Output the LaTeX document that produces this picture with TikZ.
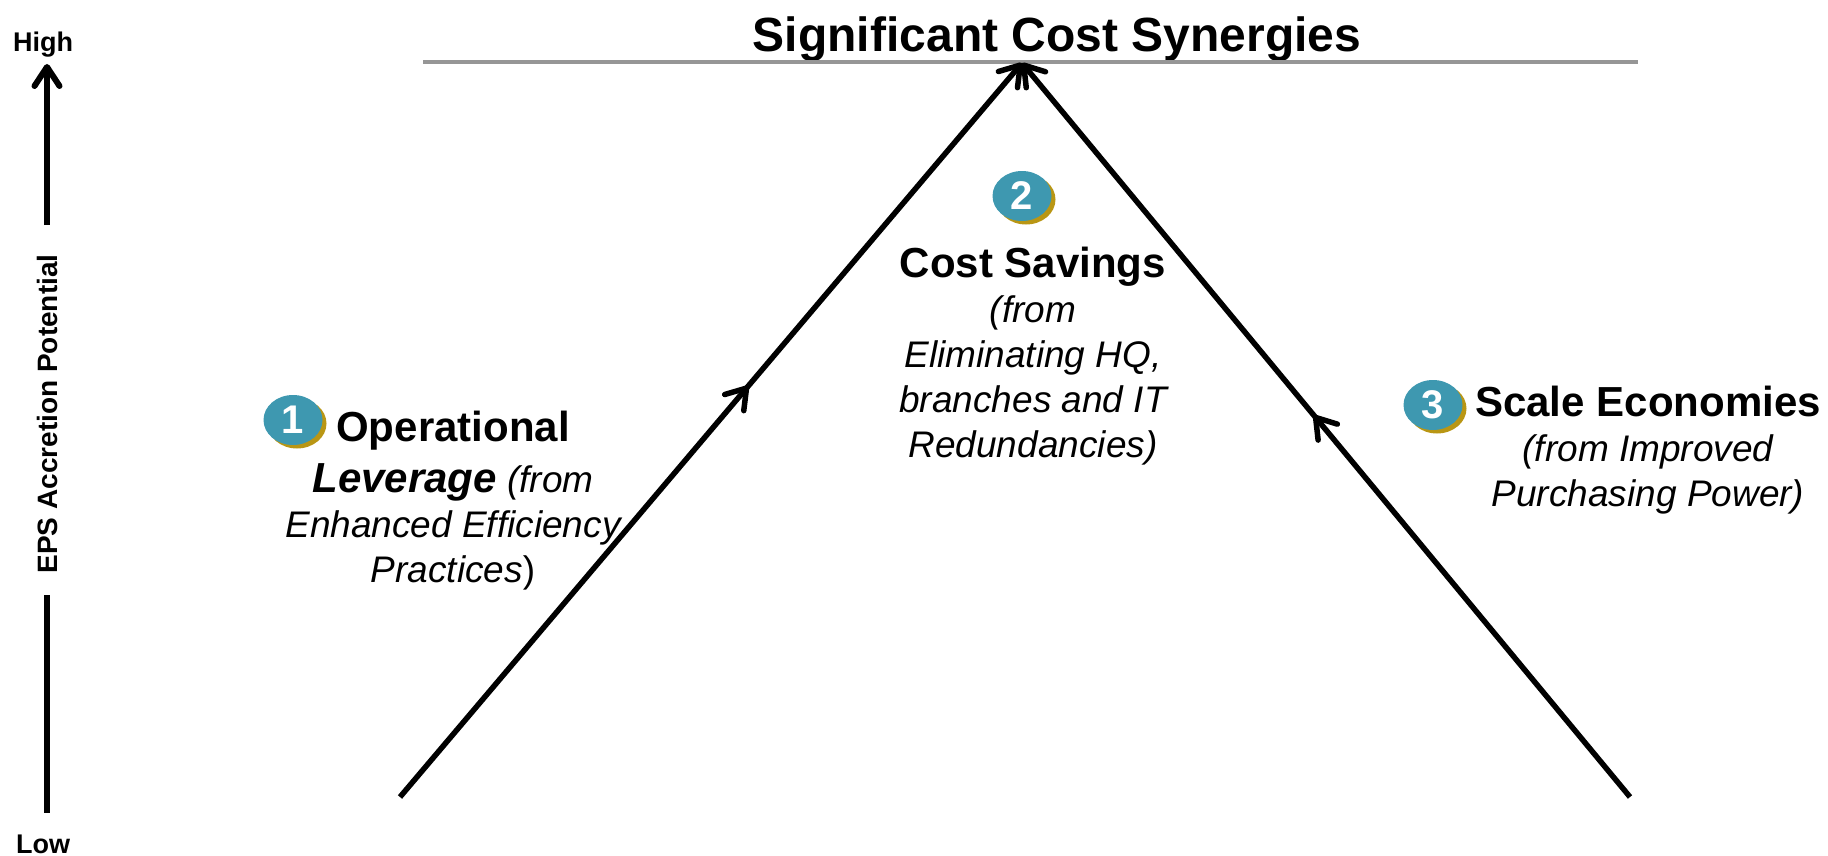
\documentclass[tikz,border=0pt]{standalone}
\usepackage{fontspec}
\setmainfont{Liberation Sans}
\usetikzlibrary{arrows.meta,decorations.markings,shapes.geometric,shadows}

\definecolor{badgeteal}{RGB}{62,152,176}
\definecolor{badgegold}{RGB}{185,150,20}
\definecolor{rulegray}{RGB}{150,150,150}

\begin{document}
\begin{tikzpicture}[x=1pt,y=-1pt,
  >={Straight Barb[length=19pt,width=25pt,line cap=round,line join=round]},
  leg/.style={line width=5.5pt,->,
    postaction={decorate,decoration={markings,mark=at position #1 with {\arrow{>}}}}},
  axisline/.style={line width=6pt},
  badge/.style={ellipse,inner sep=0pt,minimum width=59pt,minimum height=50pt,
    fill=badgeteal,text=white,font=\bfseries\fontsize{40}{40}\selectfont,
    drop shadow={shadow xshift=4pt,shadow yshift=-3.5pt,fill=badgegold,opacity=1}},
  block/.style={align=center,inner sep=0pt,anchor=north,
    font=\itshape\fontsize{37}{45}\selectfont},
  axislabel/.style={font=\bfseries\fontsize{27}{30}\selectfont,inner sep=0pt}
]
\useasboundingbox (0,0) rectangle (1828,856);

% vertical scale on the left
\node[axislabel] (high) at (43,45) {High};
\node[axislabel] (low) at (43,844) {Low};
\node[axislabel,rotate=90,font=\bfseries\fontsize{28}{30}\selectfont] (eps) at (47,414) {EPS Accretion Potential};
\coordinate (hightip) at (47,64);
\coordinate (uppstart) at (47,225);
\coordinate (lowtop) at (47,595);
\coordinate (lowend) at (47,813);
\draw[axisline,->] (uppstart) -- (hightip);
\draw[axisline] (lowtop) -- (lowend);

% headline and its rule
\node[inner sep=0pt,anchor=base,font=\bfseries\fontsize{48}{52}\selectfont] (title) at (1057,52) {Significant Cost Synergies};
\coordinate (ruleL) at (423,62);
\coordinate (ruleR) at (1638,62);
\draw[rulegray,line width=3.3pt] (ruleL) -- (ruleR);

% the two converging legs
\coordinate (apex) at (1022,63);
\coordinate (lbase) at (400,797);
\coordinate (rbase) at (1630,797);
\draw[leg=0.56] (lbase) -- (apex);
\draw[leg=0.52] (rbase) -- (apex);

% numbered badges
\node[badge] (b1) at (293,420) {1};
\node[badge] (b2) at (1022,196) {2};
\node[badge] (b3) at (1433,405) {3};

% text blocks
\node[block] (t1) at (453,411) {{\upshape\bfseries\fontsize{42}{46}\selectfont Operational}\\[6pt]
  {\bfseries\itshape\fontsize{42}{46}\selectfont Leverage} (from\\
  Enhanced Efficiency\\
  Practices{\upshape)}};
\node[block] (t2) at (1033,247) {{\upshape\bfseries\fontsize{42}{46}\selectfont Cost Savings}\\
  (from\\
  Eliminating HQ,\\
  branches and IT\\
  Redundancies)};
\node[block] (t3) at (1648,386) {{\upshape\bfseries\fontsize{42}{46}\selectfont Scale Economies}\\
  (from Improved\\
  Purchasing Power)};
\end{tikzpicture}
\end{document}
